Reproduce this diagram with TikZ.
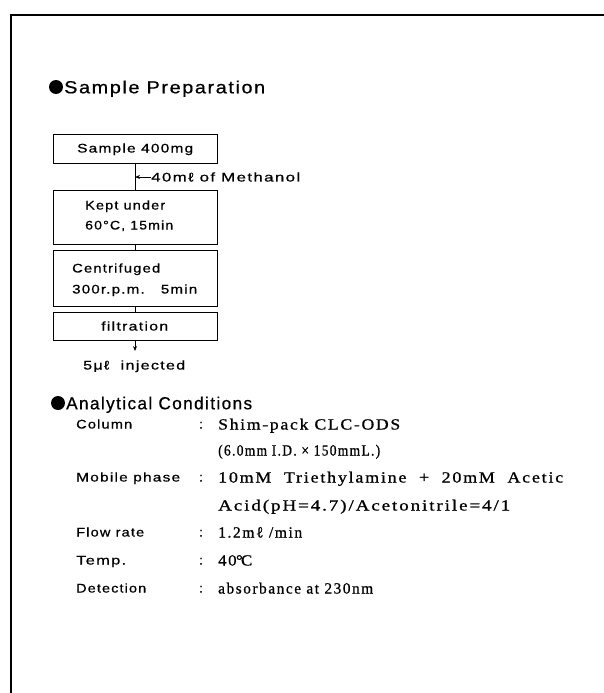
\documentclass[tikz,border=0pt]{standalone}
\usepackage{fontspec}
\usepackage{graphicx}
\usetikzlibrary{arrows.meta}
\newfontfamily\lsans[LetterSpace=8,FakeBold=0.6]{Liberation Sans}
\newfontfamily\lserif[LetterSpace=10,FakeBold=0.8]{Liberation Serif}
\newcommand{\fw}[2]{\resizebox{#1pt}{\height}{#2}}
\begin{document}
\begin{tikzpicture}[x=1pt,y=-1pt,
  txt/.style={inner sep=0pt, anchor=base west},
  hd/.style={txt, font=\lsans\fontsize{17.5}{20}\selectfont},
  lab/.style={txt, font=\lsans\fontsize{12.5}{15}\selectfont},
  val/.style={txt, font=\lserif\fontsize{15.5}{18}\selectfont},
  stepbox/.style={draw, line width=1pt, minimum width=164pt, inner sep=0pt},
  conn/.style={line width=1pt},
  tip/.style={line width=1pt, -{Stealth[length=5pt,width=4pt]}},
  bullet/.style={fill=black}
  ]
\useasboundingbox (0,0) rectangle (604,693);
\fill[white] (0,0) rectangle (604,693);
\draw[line width=1.3pt] (11,693) -- (11,15) -- (604,15);

% Sample preparation heading
\fill[bullet] (56,87) circle (7);
\node[hd] (h1) at (64,93.3) {\fw{201}{Sample Preparation}};

% flow chart boxes
\node[stepbox, minimum height=29pt] (b1) at (135,148.5) {};
\node[stepbox, minimum height=54pt] (b2) at (135,217) {};
\node[stepbox, minimum height=56pt] (b3) at (135,278) {};
\node[stepbox, minimum height=28pt] (b4) at (135,326) {};
% box texts
\node[lab] (t1) at (77,152.5) {\fw{116}{Sample 400mg}};
\node[lab] (t2a) at (85,209.5) {\fw{80}{Kept under}};
\node[lab] (t2b) at (85,229.5) {\fw{88}{60°C, 15min}};
\node[lab] (t3a) at (72,272.5) {\fw{88}{Centrifuged}};
\node[lab] (t3b) at (72,293.5) {\fw{125}{300r.p.m.\ \ \ 5min}};
\node[lab] (t4) at (101,330.5) {\fw{67}{filtration}};
% connectors
\draw[conn] (b1.south) -- (b2.north);
\draw[conn] (b2.south) -- (b3.north);
\draw[conn] (b3.south) -- (b4.north);
\coordinate (inj) at (135,351);
\draw[tip] (b4.south) -- (inj);
\node[lab, anchor=west] (meth) at (151,177) {\fw{149}{40mℓ of Methanol}};
\draw[tip] (meth.west) -- (meth.west -| b1.south);
\node[lab] (injt) at (83,369.5) {\fw{102}{5μℓ\ \ injected}};

% Analytical conditions heading
\fill[bullet] (58,403) circle (7);
\node[hd] (h2) at (66,409.3) {\fw{186}{Analytical Conditions}};

% rows
\node[lab] (l1) at (76,428.5) {\fw{56}{Column}};
\node[lab] (c1) at (199,428.5) {:};
\node[val] (v1) at (218,429.5) {\fw{182}{Shim-pack CLC-ODS}};
\node[val] (v1b) at (218,455.5) {\fw{162}{(6.0mm I.D. × 150mmL.)}};

\node[lab] (l2) at (76,481.5) {\fw{104}{Mobile phase}};
\node[lab] (c2) at (199,481.5) {:};
\node[val] (v2) at (218,482.5) {\fw{345}{10mM\ \ Triethylamine\ \ +\ \ 20mM\ \ Acetic}};
\node[val] (v2b) at (218,510.5) {\fw{292}{Acid(pH=4.7)/Acetonitrile=4/1}};

\node[lab] (l3) at (76,536.5) {\fw{68}{Flow rate}};
\node[lab] (c3) at (199,536.5) {:};
\node[val] (v3) at (218,537.5) {\fw{84}{1.2mℓ /min}};

\node[lab] (l4) at (76,564.5) {\fw{50}{Temp.}};
\node[lab] (c4) at (199,564.5) {:};
\node[val] (v4) at (218,565.5) {\fw{34}{40\kern-0.5pt°\kern-1.5pt C}};

\node[lab] (l5) at (76,592.5) {\fw{70}{Detection}};
\node[lab] (c5) at (199,592.5) {:};
\node[val] (v5) at (218,593.5) {\fw{155}{absorbance at 230nm}};
\end{tikzpicture}
\end{document}
